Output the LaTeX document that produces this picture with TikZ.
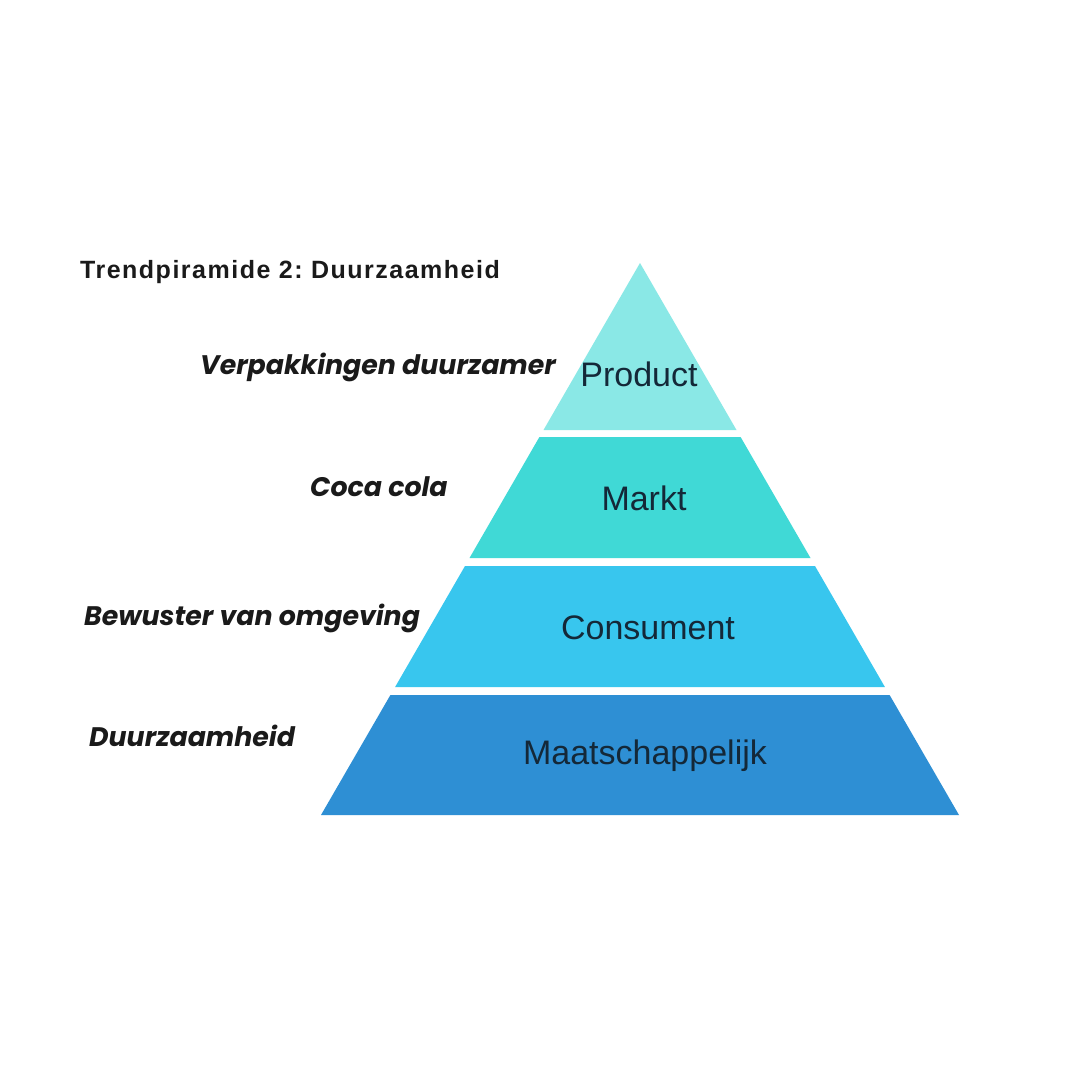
\documentclass[tikz,border=0pt]{standalone}
\usepackage{fontspec}
\setmainfont{Liberation Sans}
\newfontfamily\labfont{Poppins}
\newfontfamily\titlefont[LetterSpace=6]{Liberation Sans Bold}
\definecolor{cprod}{HTML}{8AE8E6}
\definecolor{cmarkt}{HTML}{40D9D6}
\definecolor{ccons}{HTML}{38C6EE}
\definecolor{cmaat}{HTML}{2E8FD4}
\definecolor{navy}{HTML}{142838}
\definecolor{ink}{HTML}{1A1A1A}
\begin{document}
\frenchspacing
\begin{tikzpicture}[x=1pt,y=-1pt,
  levtext/.style={font=\fontsize{34}{38}\selectfont, text=navy, inner sep=0pt, anchor=center},
  sidetext/.style={font=\labfont\bfseries\itshape\fontsize{26.8}{32}\selectfont, text=ink, inner sep=0pt, anchor=base west},
  ]
\useasboundingbox (0,0) rectangle (1080,1080);
\fill[white] (0,0) rectangle (1080,1080);
% pyramid bands (apex 640,263; base 321..959 at 815)
\fill[cprod]  (640,263) -- (736.5,430) -- (543.5,430) -- cycle;
\fill[cmarkt] (539.4,437) -- (740.6,437) -- (810.5,558) -- (469.5,558) -- cycle;
\fill[ccons]  (465.0,566) -- (815.0,566) -- (884.9,687) -- (395.1,687) -- cycle;
\fill[cmaat]  (390.4,695) -- (889.6,695) -- (959,815) -- (321,815) -- cycle;
% level texts
\node[levtext] (prod) at (639,374) {Product};
\node[levtext] (markt) at (644,498) {Markt};
\node[levtext] (cons) at (648,628) {Consument};
\node[levtext] (maat) at (645,756) {Maatschappelijk};
% title
\node[font=\titlefont\fontsize{25}{28}\selectfont, text=ink, inner sep=0pt, anchor=base west] (title) at (80,278) {Trendpiramide 2: Duurzaamheid};
% side labels
\node[sidetext] (l1) at (200,374) {Verpakkingen duurzamer};
\node[sidetext] (l2) at (310,496) {Coca cola};
\node[sidetext] (l3) at (84,625) {Bewuster van omgeving};
\node[sidetext] (l4) at (89,746) {Duurzaamheid};
\end{tikzpicture}
\end{document}
